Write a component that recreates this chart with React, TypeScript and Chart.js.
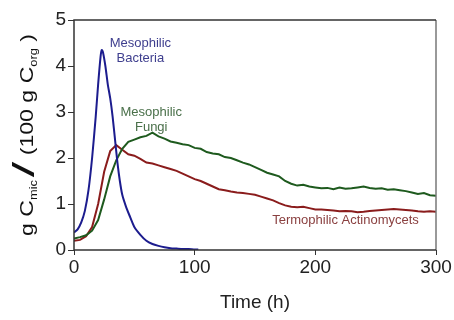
import React, { useEffect, useRef } from "react";
import { Chart, registerables } from "chart.js";

Chart.register(...registerables);

const bacteriaTime = [0, 3, 6, 9, 12, 15, 18, 20, 22, 23, 24, 26, 28, 30, 32, 34, 36, 38, 40, 43, 46, 50, 55, 60, 65, 70, 75, 80, 85, 90, 95, 100, 103];
const bacteriaValues = [0.38, 0.45, 0.6, 0.85, 1.3, 2.0, 2.9, 3.6, 4.2, 4.35, 4.3, 4.0, 3.6, 3.3, 2.9, 2.4, 1.9, 1.5, 1.2, 0.95, 0.75, 0.5, 0.33, 0.2, 0.13, 0.09, 0.06, 0.04, 0.03, 0.02, 0.02, 0.01, 0.01];

const time = [0, 5, 10, 15, 20, 25, 30, 35, 40, 45, 50, 55, 60, 65, 70, 75, 80, 85, 90, 95, 100, 105, 110, 115, 120, 125, 130, 135, 140, 145, 150, 155, 160, 165, 170, 175, 180, 185, 190, 195, 200, 205, 210, 215, 220, 225, 230, 235, 240, 245, 250, 255, 260, 265, 270, 275, 280, 285, 290, 295, 300];
const fungiValues = [0.25, 0.28, 0.32, 0.42, 0.65, 1.1, 1.6, 1.95, 2.2, 2.35, 2.4, 2.45, 2.48, 2.55, 2.47, 2.42, 2.36, 2.33, 2.3, 2.28, 2.22, 2.2, 2.13, 2.1, 2.08, 2.02, 2.0, 1.95, 1.9, 1.86, 1.8, 1.74, 1.68, 1.64, 1.6, 1.5, 1.44, 1.4, 1.42, 1.38, 1.36, 1.34, 1.35, 1.32, 1.36, 1.33, 1.34, 1.36, 1.38, 1.35, 1.33, 1.34, 1.31, 1.32, 1.3, 1.28, 1.25, 1.22, 1.24, 1.19, 1.18];
const actinoValues = [0.2, 0.22, 0.3, 0.5, 1.0, 1.7, 2.15, 2.28, 2.18, 2.08, 2.05, 1.98, 1.9, 1.88, 1.84, 1.8, 1.76, 1.72, 1.66, 1.6, 1.54, 1.5, 1.44, 1.38, 1.32, 1.3, 1.27, 1.25, 1.24, 1.22, 1.2, 1.16, 1.12, 1.08, 1.02, 0.97, 0.94, 0.93, 0.94, 0.91, 0.88, 0.88, 0.87, 0.86, 0.84, 0.85, 0.84, 0.82, 0.83, 0.85, 0.86, 0.87, 0.88, 0.89, 0.88, 0.87, 0.86, 0.84, 0.83, 0.84, 0.83];

const xTicks = [0, 100, 200, 300];
const yTicks = [0, 1, 2, 3, 4, 5];

const annotations = [
  { lines: ["Mesophilic", "Bacteria"], x: 55, y: 4.5, color: "#3e3e8e" },
  { lines: ["Mesophilic", "Fungi"], x: 64, y: 2.99, color: "#4a704a" },
  { lines: ["Termophilic Actinomycets"], x: 225, y: 0.65, color: "#8a4040" },
];

const FONT = "Arial, 'Liberation Sans', sans-serif";

const framePlugin = {
  id: "frame",
  afterDraw(chart: any) {
    const { ctx, chartArea } = chart;
    const { left, right, top, bottom } = chartArea;
    ctx.save();
    ctx.strokeStyle = "#777";
    ctx.lineWidth = 1.5;
    ctx.beginPath();
    ctx.moveTo(right, top);
    ctx.lineTo(right, bottom);
    ctx.stroke();
    ctx.strokeStyle = "#333";
    ctx.beginPath();
    ctx.moveTo(right, top);
    ctx.lineTo(left, top);
    ctx.lineTo(left, bottom);
    ctx.lineTo(right, bottom);
    ctx.stroke();

    // annotations
    const xs = chart.scales.x;
    const ys = chart.scales.y;
    ctx.font = `13px ${FONT}`;
    ctx.textAlign = "center";
    ctx.textBaseline = "middle";
    for (const a of annotations) {
      ctx.fillStyle = a.color;
      const px = xs.getPixelForValue(a.x);
      const py = ys.getPixelForValue(a.y);
      a.lines.forEach((l, i) => ctx.fillText(l, px, py + i * 15));
    }

    // y title
    ctx.translate(33, 135);
    ctx.rotate(-Math.PI / 2);
    ctx.fillStyle = "#111";
    ctx.textBaseline = "alphabetic";
    ctx.textAlign = "left";
    const parts: { t: string; size: number; dy: number; sx: number }[] = [
      { t: "g C", size: 18, dy: 0, sx: 1 },
      { t: "mic", size: 10, dy: 4, sx: 1 },
      { t: " ", size: 8, dy: 0, sx: 1 },
      { t: "/", size: 29, dy: 1, sx: 1.5 },
      { t: " (100 g C", size: 18, dy: 0, sx: 1 },
      { t: "org", size: 10, dy: 4, sx: 1 },
      { t: " )", size: 18, dy: 0, sx: 1 },
    ];
    let total = 0;
    for (const p of parts) {
      ctx.font = `${p.size}px ${FONT}`;
      total += ctx.measureText(p.t).width * p.sx;
    }
    const targetLen = 202;
    ctx.scale(targetLen / total, 1);
    let x = -total / 2;
    for (const p of parts) {
      ctx.font = `${p.size}px ${FONT}`;
      const w = ctx.measureText(p.t).width;
      ctx.save();
      ctx.translate(x, p.dy);
      ctx.scale(p.sx, 1);
      ctx.fillText(p.t, 0, 0);
      ctx.restore();
      x += w * p.sx;
    }
    ctx.restore();
  },
};

export default function App() {
  const ref = useRef<HTMLCanvasElement>(null);
  useEffect(() => {
    document.body.style.margin = "0";
    const chart = new Chart(ref.current!, {
      type: "line",
      data: {
        datasets: [
          {
            data: bacteriaTime.map((t, i) => ({ x: t, y: bacteriaValues[i] })),
            borderColor: "#1c1c8e",
            borderWidth: 2,
            pointRadius: 0,
            tension: 0.2,
          },
          {
            data: time.map((t, i) => ({ x: t, y: fungiValues[i] })),
            borderColor: "#1e5a1e",
            borderWidth: 2,
            pointRadius: 0,
          },
          {
            data: time.map((t, i) => ({ x: t, y: actinoValues[i] })),
            borderColor: "#8a1c1c",
            borderWidth: 2,
            pointRadius: 0,
          },
        ],
      },
      options: {
        animation: false,
        responsive: false,
        layout: { padding: { top: 20, right: 18, left: 0, bottom: 0 } },
        plugins: { legend: { display: false }, tooltip: { enabled: false } },
        scales: {
          x: {
            type: "linear",
            min: 0,
            max: 300,
            afterFit: (s: any) => { s.height = 70; },
            afterBuildTicks: (s: any) => { s.ticks = xTicks.map((v) => ({ value: v })); },
            ticks: { font: { size: 19, family: FONT }, color: "#222", padding: 1, maxRotation: 0 },
            grid: { drawOnChartArea: false, tickLength: 5, color: "#333" },
            border: { display: false },
            title: { display: true, text: "Time (h)", font: { size: 19, family: FONT }, color: "#222", padding: { top: 8, bottom: 6 } },
          },
          y: {
            min: 0,
            max: 5,
            afterFit: (s: any) => { s.width = 74; },
            afterBuildTicks: (s: any) => { s.ticks = yTicks.map((v) => ({ value: v })); },
            ticks: { font: { size: 19, family: FONT }, color: "#222", padding: 2 },
            grid: { drawOnChartArea: false, tickLength: 6, color: "#333" },
            border: { display: false },
          },
        },
      },
      plugins: [framePlugin],
    });
    return () => chart.destroy();
  }, []);
  return <canvas ref={ref} width={454} height={320} style={{ display: "block" }} />;
}
